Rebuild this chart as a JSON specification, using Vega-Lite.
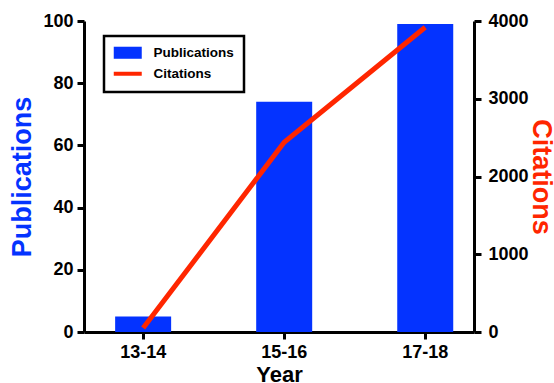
{
  "$schema": "https://vega.github.io/schema/vega-lite/v6.json",
  "width": 390,
  "height": 311,
  "autosize": {"type": "none"},
  "padding": {"left": 84, "top": 21, "right": 80, "bottom": 51},
  "config": {
    "font": "Liberation Sans",
    "view": {"stroke": null},
    "axis": {
      "grid": false,
      "domainColor": "black",
      "domainWidth": 3,
      "tickColor": "black",
      "tickWidth": 3,
      "tickSize": 7,
      "labelFontSize": 18,
      "labelFontWeight": "bold",
      "labelColor": "black",
      "labelPadding": 4,
      "titleFontSize": 27,
      "titleFontWeight": "bold"
    }
  },
  "data": {
    "values": [
      {"year": "13-14", "publications": 5, "citations": 50},
      {"year": "15-16", "publications": 74, "citations": 2440},
      {"year": "17-18", "publications": 99, "citations": 3920}
    ]
  },
  "encoding": {
    "x": {
      "field": "year",
      "type": "nominal",
      "sort": null,
      "scale": {"paddingInner": 0.603, "paddingOuter": 0.184, "align": 0.6},
      "axis": {"title": "Year", "labelAngle": 0, "titleFontSize": 22, "titleColor": "black", "titlePadding": 3}
    }
  },
  "layer": [
    {
      "mark": {"type": "bar"},
      "encoding": {
        "y": {
          "field": "publications",
          "type": "quantitative",
          "scale": {"domain": [0, 100], "nice": false},
          "axis": {"title": "Publications", "titleColor": "#0433FF", "values": [0, 20, 40, 60, 80, 100], "titlePadding": 6}
        },
        "color": {
          "datum": "Publications",
          "type": "nominal",
          "scale": {"domain": ["Publications", "Citations"], "range": ["#0433FF", "#FF2600"]},
          "legend": {
            "title": null,
            "orient": "none",
            "legendX": 20,
            "legendY": 15,
            "strokeColor": "black",
            "fillColor": "white",
            "padding": 10,
            "symbolSize": 784,
            "symbolOffset": 7,
            "rowPadding": 5,
            "labelFontSize": 13.5,
            "labelFontWeight": "bold",
            "labelColor": "black",
            "labelOffset": 19,
            "encode": {
              "legend": {"update": {"strokeWidth": {"value": 2.5}}},
              "symbols": {
                "update": {
                  "shape": {"signal": "datum.value === 'Publications' ? 'M-1,-0.43H1V0.43H-1Z' : 'M-1,0H1'"},
                  "fill": {"signal": "datum.value === 'Publications' ? '#0433FF' : 'transparent'"},
                  "stroke": {"signal": "datum.value === 'Publications' ? 'transparent' : '#FF2600'"},
                  "strokeWidth": {"signal": "datum.value === 'Publications' ? 0 : 4"}
                }
              }
            }
          }
        }
      }
    },
    {
      "mark": {"type": "line", "strokeWidth": 5},
      "encoding": {
        "y": {
          "field": "citations",
          "type": "quantitative",
          "scale": {"domain": [0, 4000], "nice": false},
          "axis": {"title": "Citations", "orient": "right", "titleColor": "#FF2600", "values": [0, 1000, 2000, 3000, 4000], "format": "d", "labelPadding": 7, "titlePadding": -2}
        },
        "color": {"datum": "Citations", "type": "nominal"}
      }
    }
  ],
  "resolve": {"scale": {"y": "independent"}}
}
